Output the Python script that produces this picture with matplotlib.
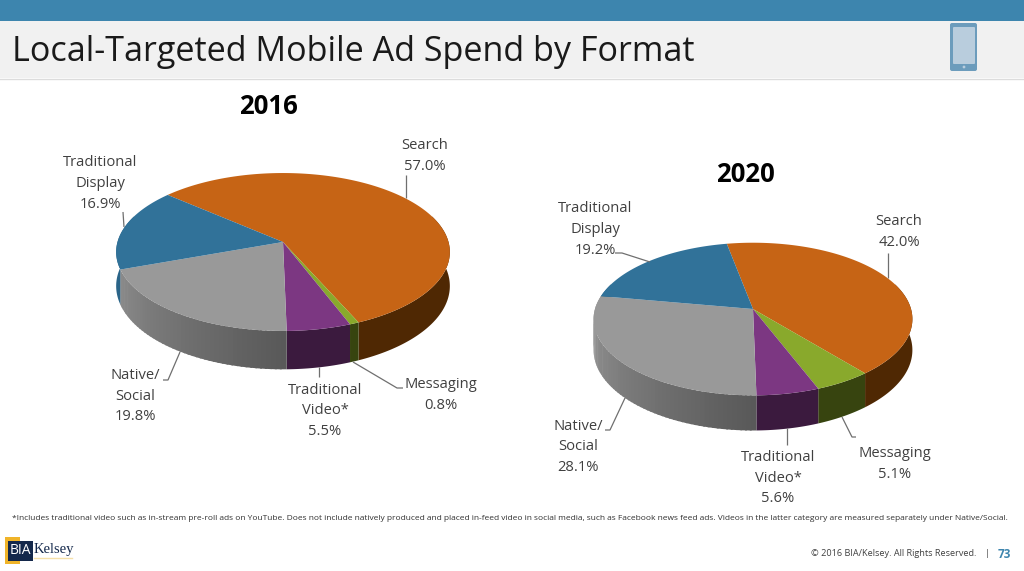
import numpy as np
import matplotlib
matplotlib.use("Agg")
import matplotlib.pyplot as plt
from matplotlib.patches import Polygon, Rectangle, FancyBboxPatch, Circle

plt.rcParams["font.family"] = ["Open Sans", "DejaVu Sans"]

formats = ["Search", "Messaging", "Traditional\nVideo*", "Native/\nSocial", "Traditional\nDisplay"]
share_2016 = [57.0, 0.8, 5.5, 19.8, 16.9]
share_2020 = [42.0, 5.1, 5.6, 28.1, 19.2]

top_colors = ["#c66415", "#89a92c", "#7c3782", "#999999", "#317299"]
side_colors = ["#4f2803", "#37440f", "#3b1a3e", None, "#2a6488"]

TITLE = "Local-Targeted Mobile Ad Spend by Format"
NOTE = ("*Includes traditional video such as in-stream pre-roll ads on YouTube. Does not include natively produced "
        "and placed in-feed video in social media, such as Facebook news feed ads. Videos in the latter category are "
        "measured separately under Native/Social.")
TXT = "#404040"
LEAD = "#6f6f6f"


def project(theta, geo, drop=0.0):
    # theta in degrees clockwise from the far side of the disc, with a bit of perspective
    t = np.radians(theta)
    w = 1 + geo["k"] * np.cos(t)
    x = geo["cx"] + geo["a"] * np.sin(t) / w
    y = geo["cy"] - geo["b"] * np.cos(t) / w + drop / w
    return np.column_stack([x, y])


def gray_side(theta):
    # side of the grey slice darkens towards the front
    f = np.clip((theta - 178) / 90.0, 0, 1)
    v = 0.345 + (0.60 - 0.345) * f
    return (v, v, v)


def pie3d(ax, values, geo):
    edges = geo["end"] - np.cumsum([0] + values[::-1])[::-1] * 3.6
    # side wall first, the top goes over it
    for i in range(len(values)):
        lo, hi = max(edges[i], 70), min(edges[i + 1], 290)
        if hi <= lo:
            continue
        if side_colors[i] is None:
            th = np.arange(lo, hi + 1.5, 1.5)
            for a, b in zip(th[:-1], th[1:]):
                seg = np.linspace(a, min(b + 0.6, hi), 3)
                pts = np.vstack([project(seg, geo), project(seg[::-1], geo, geo["d"])])
                ax.add_patch(Polygon(pts, fc=gray_side(a), ec="none", zorder=2))
        else:
            seg = np.linspace(lo, hi, 80)
            pts = np.vstack([project(seg, geo), project(seg[::-1], geo, geo["d"])])
            ax.add_patch(Polygon(pts, fc=side_colors[i], ec="none", zorder=2))
    for i in range(len(values)):
        seg = np.linspace(edges[i], edges[i + 1], 160)
        pts = np.vstack([[geo["cx"], geo["cy"]], project(seg, geo)])
        ax.add_patch(Polygon(pts, fc=top_colors[i], ec="none", zorder=3))


def labels(ax, values, spots, leaders):
    for name, val, (x, y) in zip(formats, values, spots):
        ax.text(x, y, f"{name}\n{val:.1f}%", ha="center", va="center", fontsize=10.6,
                color=TXT, linespacing=1.5, zorder=6)
    for xs, ys in leaders:
        ax.plot(xs, ys, color=LEAD, lw=0.9, zorder=5, solid_capstyle="butt")


fig = plt.figure(figsize=(10.24, 5.71), dpi=100)
ax = fig.add_axes([0, 0, 1, 1])
ax.set_xlim(0, 1024)
ax.set_ylim(571, 0)
ax.axis("off")

# slide header
ax.add_patch(Rectangle((0, 0), 1024, 21, fc="#3d85ae", ec="none"))
ax.add_patch(Rectangle((0, 21), 1024, 57, fc="#f1f1f1", ec="none"))
ax.plot([0, 1024], [78.5, 78.5], color="#dcdcdc", lw=1)
ax.text(12, 52, TITLE, fontsize=24.6, color="#1a1a1a", va="center", ha="left")

# phone icon
ax.add_patch(FancyBboxPatch((950, 23), 27, 48, boxstyle="round,pad=0,rounding_size=2", fc="#6c9cbc", ec="none"))
ax.add_patch(FancyBboxPatch((953, 27), 22, 37, boxstyle="round,pad=0,rounding_size=1", fc="#b9cddd", ec="none"))
ax.add_patch(Circle((964, 67), 1.4, fc="#b9cddd", ec="none"))

geo_2016 = dict(cx=283, cy=242, a=165.5, b=77.7, k=0.1266, d=33.5, end=311)
geo_2020 = dict(cx=753, cy=309, a=158, b=75, k=0.1316, d=30.5, end=349.2)

pie3d(ax, share_2016, geo_2016)
pie3d(ax, share_2020, geo_2020)

ax.text(268, 107, "2016", fontsize=18.5, fontweight="bold", color="black", ha="center", va="center")
ax.text(745, 174, "2020", fontsize=18.5, fontweight="bold", color="black", ha="center", va="center")

spots_2016 = [(425, 156), (441, 395), (325, 411), (135, 396), (100, 183.5)]
spots_2020 = [(899, 232), (895, 464), (778, 478), (578, 447), (595, 229.5)]
leaders_2016 = [([406, 406], [175, 198]), ([353, 397, 403], [362, 388, 388]), ([319, 319], [367, 377]),
                ([163, 168, 180], [380, 380, 352]), ([123, 124], [212, 227])]
leaders_2020 = [([888, 888], [253, 278]), ([842, 852, 856], [417, 437, 437]), ([787, 787], [428, 445]),
                ([605, 610, 625], [430, 430, 398]), ([615, 622, 650], [253, 253, 262])]
labels(ax, share_2016, spots_2016, leaders_2016)
labels(ax, share_2020, spots_2020, leaders_2020)

# footer
ax.text(12, 519, NOTE, fontsize=6.0, color="#303030", va="center", ha="left")
ax.add_patch(Rectangle((5, 537), 15, 27, fc="#f0b429", ec="none"))
ax.add_patch(Rectangle((8, 541), 25, 20, fc="#14284b", ec="none"))
ax.text(20.5, 551, "BIA", fontsize=10, color="white", ha="center", va="center")
ax.plot([34, 72], [557.5, 557.5], color="#f5e0a8", lw=1)
ax.text(34, 550, "Kelsey", fontsize=10.5, family="Liberation Serif", color="#14284b", ha="left", va="center")
ax.text(976, 554, "© 2016 BIA/Kelsey. All Rights Reserved.", fontsize=6.6, color="#404040", ha="right", va="center")
ax.text(987, 554, "|", fontsize=6.5, color="#404040", ha="center", va="center")
ax.text(1004, 554, "73", fontsize=8.5, fontweight="bold", color="#3d85ae", ha="center", va="center")

fig.savefig("out.png", dpi=100)
